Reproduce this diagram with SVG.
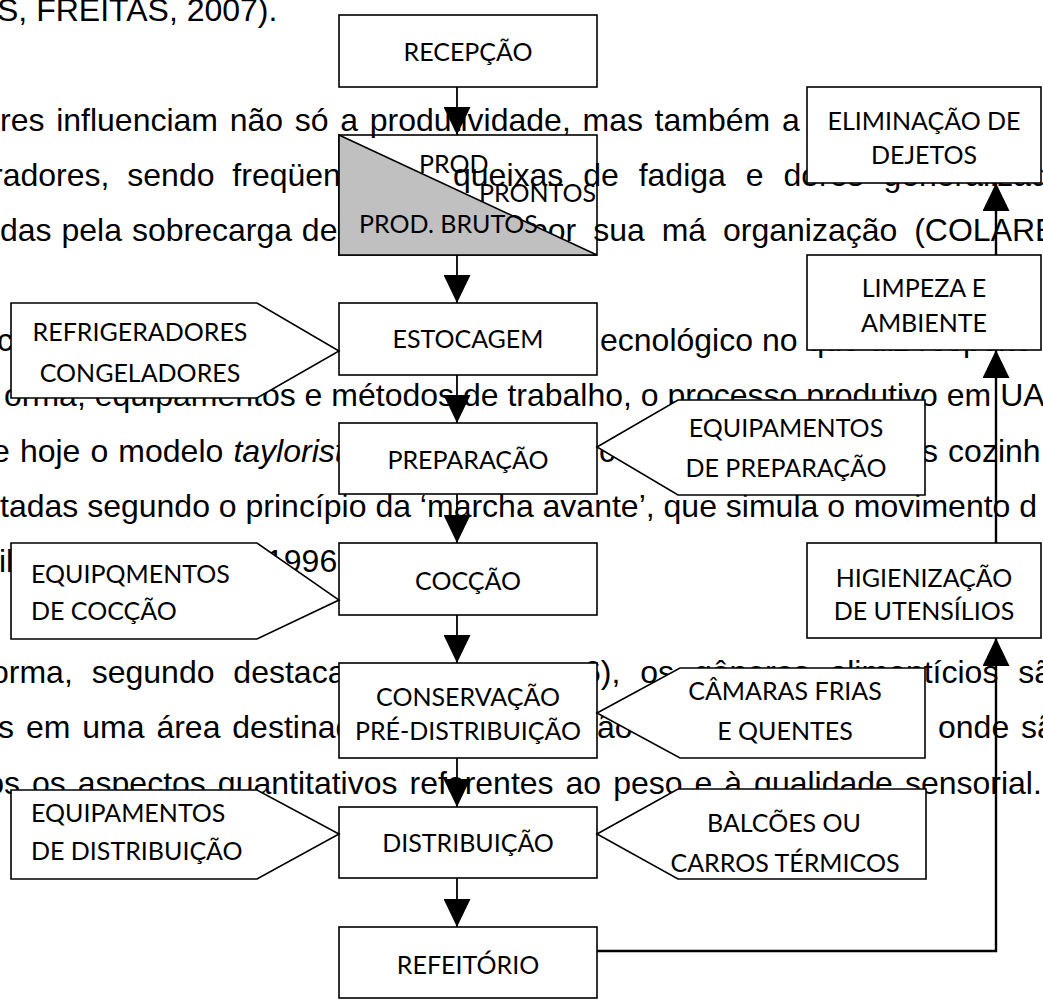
<svg xmlns="http://www.w3.org/2000/svg" width="1043" height="1000" viewBox="0 0 1043 1000">
<style>
.body{font-family:'Liberation Sans',Arial,sans-serif;font-size:32px;fill:#000}
.box{fill:#fff;stroke:#000;stroke-width:1.6}
.lbl{font-family:Lato,sans-serif;font-size:25px;fill:#000;text-anchor:middle}
.lbs{font-family:Lato,sans-serif;font-size:25px;fill:#000}
.conn{stroke:#000;stroke-width:1.8;fill:none}
.conn2{stroke:#000;stroke-width:2.4;fill:none}
</style>
<defs>
<marker id="ah" markerUnits="userSpaceOnUse" markerWidth="28" markerHeight="27" refX="28" refY="13.5" orient="auto">
<path d="M0,0 L28,13.5 L0,27 Z" fill="#000"/>
</marker>
</defs>
<rect width="1043" height="1000" fill="#fff"/>
<g id="body-text" class="body">
<text x="-3" y="21">S, FREITAS, 2007).</text>
<text x="0" y="131" word-spacing="2.8">res influenciam não só a produtividade, mas também a</text>
<text x="-8" y="186" word-spacing="9">radores, sendo freqüen</text>
<text x="453" y="186" word-spacing="11">queixas de fadiga e dores generalizada</text>
<text x="0" y="241" word-spacing="1">das pela sobrecarga de</text>
<text x="530" y="241" word-spacing="8">por sua má organização (COLARE</text>
<text x="-3" y="351">co</text>
<text x="600" y="351">ecnológico no que diz respeito</text>
<text x="4" y="406">orma, equipamentos e métodos de trabalho, o processo produtivo em UA</text>
<text x="-8" y="462" word-spacing="1.2">e hoje o modelo <tspan font-style="italic">taylorist</tspan></text>
<text x="599" y="462">c</text>
<text x="922" y="462" word-spacing="1.2">s cozinh</text>
<text x="0" y="517">tadas segundo o princípio da ‘marcha avante’, que simula o movimento d</text>
<text x="-1" y="572">il</text>
<text x="266" y="572">1996</text>
<text x="-9" y="683" word-spacing="10">orma, segundo destaca</text>
<text x="583" y="683" word-spacing="11">6), os gêneros alimentícios sã</text>
<text x="-2" y="738" word-spacing="3">s em uma área destinad</text>
<text x="597" y="738">ão</text>
<text x="938" y="738" word-spacing="3">onde sã</text>
<text x="-13.8" y="794" word-spacing="3.1">os os aspectos quantitativos referentes ao peso e à qualidade sensorial.</text>
</g>
<g id="nodes">
<g id="n-recepcao"><rect class="box" x="339" y="15" width="258" height="72"/><text class="lbl" x="468" y="61">RECEPÇÃO</text></g>
<g id="n-prod">
<rect x="339" y="135" width="258" height="120" fill="none" stroke="#000" stroke-width="1.6"/>
<polygon points="339,135 597,255 339,255" fill="#c0c0c0" stroke="#000" stroke-width="1.6"/>
<text class="lbs" x="419" y="173" font-size="17">PROD</text>
<text class="lbs" x="479" y="202" font-size="17">PRONTOS</text>
<text class="lbs" x="359" y="233" font-size="18.5">PROD. BRUTOS</text>
</g>
<g id="n-estocagem"><rect class="box" x="339" y="303" width="258" height="72"/><text class="lbl" x="468" y="348">ESTOCAGEM</text></g>
<g id="n-preparacao"><rect class="box" x="339" y="423" width="258" height="71"/><text class="lbl" x="468" y="469">PREPARAÇÃO</text></g>
<g id="n-coccao"><rect class="box" x="339" y="543" width="258" height="72"/><text class="lbl" x="468" y="590">COCÇÃO</text></g>
<g id="n-conservacao"><rect class="box" x="339" y="663" width="258" height="95"/><text class="lbl" x="468" y="706">CONSERVAÇÃO</text><text class="lbl" x="468" y="740">PRÉ-DISTRIBUIÇÃO</text></g>
<g id="n-distribuicao"><rect class="box" x="339" y="807" width="258" height="71"/><text class="lbl" x="468" y="852">DISTRIBUIÇÃO</text></g>
<g id="n-refeitorio"><rect class="box" x="339" y="927" width="258" height="71"/><text class="lbl" x="468" y="974">REFEITÓRIO</text></g>
<g id="n-eliminacao"><rect class="box" x="807" y="87" width="234" height="96"/><text class="lbl" x="924" y="130">ELIMINAÇÃO DE</text><text class="lbl" x="924" y="164">DEJETOS</text></g>
<g id="n-limpeza"><rect class="box" x="807" y="255" width="234" height="95"/><text class="lbl" x="924" y="297">LIMPEZA E</text><text class="lbl" x="924" y="332">AMBIENTE</text></g>
<g id="n-higienizacao"><rect class="box" x="807" y="543" width="234" height="95"/><text class="lbl" x="924" y="587">HIGIENIZAÇÃO</text><text class="lbl" x="924" y="620">DE UTENSÍLIOS</text></g>
<g id="n-refrigeradores"><polygon class="box" points="11,303 257,303 339,351 257,398 11,398"/><text class="lbl" x="140" y="341">REFRIGERADORES</text><text class="lbl" x="140" y="382">CONGELADORES</text></g>
<g id="n-equip-coccao"><polygon class="box" points="11,543 257,543 339,600 257,639 11,639"/><text class="lbs" x="31" y="583">EQUIPQMENTOS</text><text class="lbs" x="31" y="620">DE COCÇÃO</text></g>
<g id="n-equip-distribuicao"><polygon class="box" points="11,790 257,790 339,834 257,879 11,879"/><text class="lbs" x="31" y="822">EQUIPAMENTOS</text><text class="lbs" x="31" y="860">DE DISTRIBUIÇÃO</text></g>
<g id="n-equip-preparacao"><polygon class="box" points="597,447 678,400 925,400 925,495 678,495"/><text class="lbl" x="786" y="437">EQUIPAMENTOS</text><text class="lbl" x="786" y="477">DE PREPARAÇÃO</text></g>
<g id="n-camaras"><polygon class="box" points="597,713 680,668 925,668 925,758 680,758"/><text class="lbl" x="785" y="700">CÂMARAS FRIAS</text><text class="lbl" x="785" y="740">E QUENTES</text></g>
<g id="n-balcoes"><polygon class="box" points="597,834 678,789 926,789 926,879 678,879"/><text class="lbl" x="784" y="832">BALCÕES OU</text><text class="lbl" x="785" y="872">CARROS TÉRMICOS</text></g>
</g>
<g id="connectors">
<line class="conn" x1="457" y1="87" x2="457" y2="135" marker-end="url(#ah)"/>
<line class="conn" x1="457" y1="255" x2="457" y2="303" marker-end="url(#ah)"/>
<line class="conn" x1="457" y1="375" x2="457" y2="423" marker-end="url(#ah)"/>
<line class="conn" x1="457" y1="494" x2="457" y2="543" marker-end="url(#ah)"/>
<line class="conn" x1="457" y1="615" x2="457" y2="663" marker-end="url(#ah)"/>
<line class="conn" x1="457" y1="758" x2="457" y2="807" marker-end="url(#ah)"/>
<line class="conn" x1="457" y1="878" x2="457" y2="927" marker-end="url(#ah)"/>
<path class="conn2" d="M597,951 H996 V638" marker-end="url(#ah)"/>
<line class="conn2" x1="996" y1="543" x2="996" y2="350" marker-end="url(#ah)"/>
<line class="conn2" x1="996" y1="255" x2="996" y2="183" marker-end="url(#ah)"/>
</g>
</svg>
